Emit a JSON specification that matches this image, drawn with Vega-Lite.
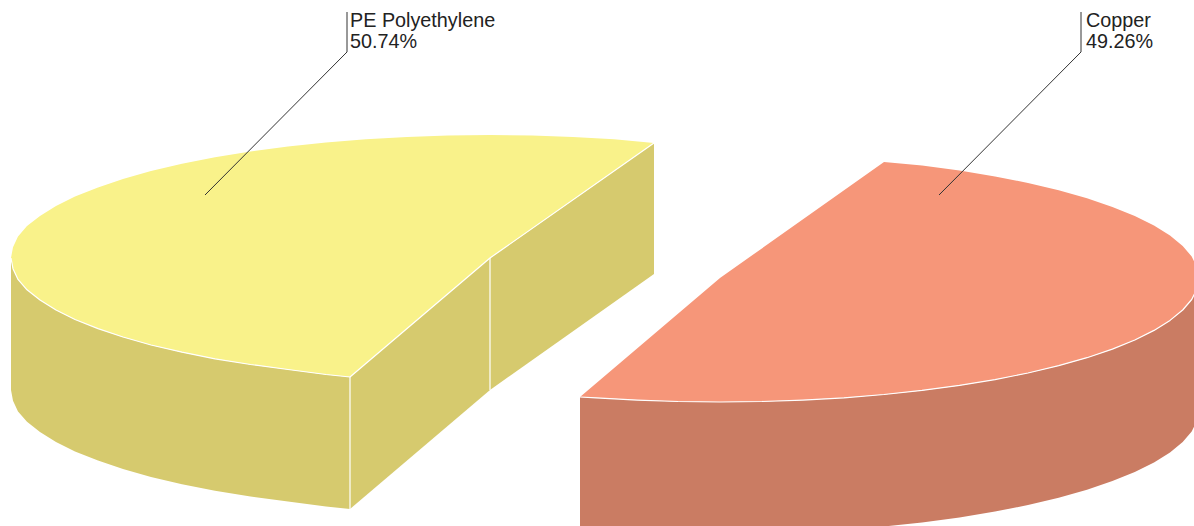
{
"$schema":"https://vega.github.io/schema/vega-lite/v6.json",
"width":1194,"height":526,"padding":0,"autosize":"none",
"background":"white",
"config":{"view":{"stroke":null}},
"datasets":{
"faces":[
{"shape":"PE outer wall","face":"PE wall","x":11,"y":258},{"shape":"PE outer wall","face":"PE wall","x":13,"y":268.7},{"shape":"PE outer wall","face":"PE wall","x":18,"y":279.4},{"shape":"PE outer wall","face":"PE wall","x":27,"y":289.8},{"shape":"PE outer wall","face":"PE wall","x":40,"y":300},{"shape":"PE outer wall","face":"PE wall","x":56,"y":310},{"shape":"PE outer wall","face":"PE wall","x":75,"y":319.5},{"shape":"PE outer wall","face":"PE wall","x":98,"y":328.6},{"shape":"PE outer wall","face":"PE wall","x":123,"y":337},{"shape":"PE outer wall","face":"PE wall","x":151,"y":345},{"shape":"PE outer wall","face":"PE wall","x":182,"y":352.2},{"shape":"PE outer wall","face":"PE wall","x":215,"y":358.8},{"shape":"PE outer wall","face":"PE wall","x":250.5,"y":364.5},{"shape":"PE outer wall","face":"PE wall","x":288,"y":369.5},{"shape":"PE outer wall","face":"PE wall","x":326,"y":374.5},{"shape":"PE outer wall","face":"PE wall","x":350,"y":377},{"shape":"PE outer wall","face":"PE wall","x":350,"y":509},{"shape":"PE outer wall","face":"PE wall","x":326,"y":506.5},{"shape":"PE outer wall","face":"PE wall","x":288,"y":501.5},{"shape":"PE outer wall","face":"PE wall","x":250.5,"y":496.5},{"shape":"PE outer wall","face":"PE wall","x":215,"y":490.8},{"shape":"PE outer wall","face":"PE wall","x":182,"y":484.2},{"shape":"PE outer wall","face":"PE wall","x":151,"y":477},{"shape":"PE outer wall","face":"PE wall","x":123,"y":469},{"shape":"PE outer wall","face":"PE wall","x":98,"y":460.6},{"shape":"PE outer wall","face":"PE wall","x":75,"y":451.5},{"shape":"PE outer wall","face":"PE wall","x":56,"y":442},{"shape":"PE outer wall","face":"PE wall","x":40,"y":432},{"shape":"PE outer wall","face":"PE wall","x":27,"y":421.8},{"shape":"PE outer wall","face":"PE wall","x":18,"y":411.4},{"shape":"PE outer wall","face":"PE wall","x":13,"y":400.7},{"shape":"PE outer wall","face":"PE wall","x":11,"y":390},{"shape":"PE outer wall","face":"PE wall","x":11,"y":258},
{"shape":"PE cut wall 1","face":"PE wall","x":350,"y":377},{"shape":"PE cut wall 1","face":"PE wall","x":490,"y":258},{"shape":"PE cut wall 1","face":"PE wall","x":490,"y":390},{"shape":"PE cut wall 1","face":"PE wall","x":350,"y":509},{"shape":"PE cut wall 1","face":"PE wall","x":350,"y":377},
{"shape":"PE cut wall 2","face":"PE wall","x":490,"y":258},{"shape":"PE cut wall 2","face":"PE wall","x":654,"y":143},{"shape":"PE cut wall 2","face":"PE wall","x":654,"y":274},{"shape":"PE cut wall 2","face":"PE wall","x":490,"y":390},{"shape":"PE cut wall 2","face":"PE wall","x":490,"y":258},
{"shape":"PE top","face":"PE top","x":654,"y":143},{"shape":"PE top","face":"PE top","x":614,"y":139.2},{"shape":"PE top","face":"PE top","x":573,"y":136.9},{"shape":"PE top","face":"PE top","x":532,"y":135.5},{"shape":"PE top","face":"PE top","x":490,"y":135},{"shape":"PE top","face":"PE top","x":448,"y":135.5},{"shape":"PE top","face":"PE top","x":407,"y":136.9},{"shape":"PE top","face":"PE top","x":366,"y":139.2},{"shape":"PE top","face":"PE top","x":326,"y":142.4},{"shape":"PE top","face":"PE top","x":288,"y":146.5},{"shape":"PE top","face":"PE top","x":250.5,"y":151.5},{"shape":"PE top","face":"PE top","x":215,"y":157.2},{"shape":"PE top","face":"PE top","x":182,"y":163.8},{"shape":"PE top","face":"PE top","x":151,"y":171},{"shape":"PE top","face":"PE top","x":123,"y":179},{"shape":"PE top","face":"PE top","x":98,"y":187.4},{"shape":"PE top","face":"PE top","x":75,"y":196.5},{"shape":"PE top","face":"PE top","x":56,"y":206},{"shape":"PE top","face":"PE top","x":40,"y":216},{"shape":"PE top","face":"PE top","x":27,"y":226},{"shape":"PE top","face":"PE top","x":18,"y":236.6},{"shape":"PE top","face":"PE top","x":13,"y":247.3},{"shape":"PE top","face":"PE top","x":11,"y":258},{"shape":"PE top","face":"PE top","x":13,"y":268.7},{"shape":"PE top","face":"PE top","x":18,"y":279.4},{"shape":"PE top","face":"PE top","x":27,"y":289.8},{"shape":"PE top","face":"PE top","x":40,"y":300},{"shape":"PE top","face":"PE top","x":56,"y":310},{"shape":"PE top","face":"PE top","x":75,"y":319.5},{"shape":"PE top","face":"PE top","x":98,"y":328.6},{"shape":"PE top","face":"PE top","x":123,"y":337},{"shape":"PE top","face":"PE top","x":151,"y":345},{"shape":"PE top","face":"PE top","x":182,"y":352.2},{"shape":"PE top","face":"PE top","x":215,"y":358.8},{"shape":"PE top","face":"PE top","x":250.5,"y":364.5},{"shape":"PE top","face":"PE top","x":288,"y":369.5},{"shape":"PE top","face":"PE top","x":326,"y":374.5},{"shape":"PE top","face":"PE top","x":350,"y":377},{"shape":"PE top","face":"PE top","x":490,"y":258},{"shape":"PE top","face":"PE top","x":654,"y":143},
{"shape":"Cu outer wall","face":"Cu wall","x":580,"y":397},{"shape":"Cu outer wall","face":"Cu wall","x":596,"y":397.8},{"shape":"Cu outer wall","face":"Cu wall","x":637,"y":400.1},{"shape":"Cu outer wall","face":"Cu wall","x":678,"y":401.5},{"shape":"Cu outer wall","face":"Cu wall","x":720,"y":402},{"shape":"Cu outer wall","face":"Cu wall","x":762,"y":401.5},{"shape":"Cu outer wall","face":"Cu wall","x":803,"y":400.1},{"shape":"Cu outer wall","face":"Cu wall","x":844,"y":397.8},{"shape":"Cu outer wall","face":"Cu wall","x":884,"y":394.5},{"shape":"Cu outer wall","face":"Cu wall","x":922,"y":390.4},{"shape":"Cu outer wall","face":"Cu wall","x":959.5,"y":385.4},{"shape":"Cu outer wall","face":"Cu wall","x":995,"y":379.6},{"shape":"Cu outer wall","face":"Cu wall","x":1028,"y":373},{"shape":"Cu outer wall","face":"Cu wall","x":1058.7,"y":365.7},{"shape":"Cu outer wall","face":"Cu wall","x":1087,"y":357.7},{"shape":"Cu outer wall","face":"Cu wall","x":1112.4,"y":349.1},{"shape":"Cu outer wall","face":"Cu wall","x":1134.8,"y":340},{"shape":"Cu outer wall","face":"Cu wall","x":1154,"y":330.4},{"shape":"Cu outer wall","face":"Cu wall","x":1170,"y":320.4},{"shape":"Cu outer wall","face":"Cu wall","x":1182.7,"y":310},{"shape":"Cu outer wall","face":"Cu wall","x":1191.7,"y":299.5},{"shape":"Cu outer wall","face":"Cu wall","x":1197,"y":288.8},{"shape":"Cu outer wall","face":"Cu wall","x":1199,"y":278},{"shape":"Cu outer wall","face":"Cu wall","x":1199,"y":410},{"shape":"Cu outer wall","face":"Cu wall","x":1197,"y":420.8},{"shape":"Cu outer wall","face":"Cu wall","x":1191.7,"y":431.5},{"shape":"Cu outer wall","face":"Cu wall","x":1182.7,"y":442},{"shape":"Cu outer wall","face":"Cu wall","x":1170,"y":452.4},{"shape":"Cu outer wall","face":"Cu wall","x":1154,"y":462.4},{"shape":"Cu outer wall","face":"Cu wall","x":1134.8,"y":472},{"shape":"Cu outer wall","face":"Cu wall","x":1112.4,"y":481.1},{"shape":"Cu outer wall","face":"Cu wall","x":1087,"y":489.7},{"shape":"Cu outer wall","face":"Cu wall","x":1058.7,"y":497.7},{"shape":"Cu outer wall","face":"Cu wall","x":1028,"y":505},{"shape":"Cu outer wall","face":"Cu wall","x":995,"y":511.6},{"shape":"Cu outer wall","face":"Cu wall","x":959.5,"y":517.4},{"shape":"Cu outer wall","face":"Cu wall","x":922,"y":522.4},{"shape":"Cu outer wall","face":"Cu wall","x":884,"y":526.5},{"shape":"Cu outer wall","face":"Cu wall","x":844,"y":529.8},{"shape":"Cu outer wall","face":"Cu wall","x":580,"y":529},{"shape":"Cu outer wall","face":"Cu wall","x":580,"y":397},
{"shape":"Cu top","face":"Cu top","x":884,"y":162},{"shape":"Cu top","face":"Cu top","x":922,"y":165.6},{"shape":"Cu top","face":"Cu top","x":959.5,"y":170.6},{"shape":"Cu top","face":"Cu top","x":995,"y":176.4},{"shape":"Cu top","face":"Cu top","x":1028,"y":183},{"shape":"Cu top","face":"Cu top","x":1058.7,"y":190.3},{"shape":"Cu top","face":"Cu top","x":1087,"y":198.3},{"shape":"Cu top","face":"Cu top","x":1112.4,"y":206.9},{"shape":"Cu top","face":"Cu top","x":1134.8,"y":216},{"shape":"Cu top","face":"Cu top","x":1154,"y":225.6},{"shape":"Cu top","face":"Cu top","x":1170,"y":235.6},{"shape":"Cu top","face":"Cu top","x":1182.7,"y":246},{"shape":"Cu top","face":"Cu top","x":1191.7,"y":256.5},{"shape":"Cu top","face":"Cu top","x":1197,"y":267.2},{"shape":"Cu top","face":"Cu top","x":1199,"y":278},{"shape":"Cu top","face":"Cu top","x":1197,"y":288.8},{"shape":"Cu top","face":"Cu top","x":1191.7,"y":299.5},{"shape":"Cu top","face":"Cu top","x":1182.7,"y":310},{"shape":"Cu top","face":"Cu top","x":1170,"y":320.4},{"shape":"Cu top","face":"Cu top","x":1154,"y":330.4},{"shape":"Cu top","face":"Cu top","x":1134.8,"y":340},{"shape":"Cu top","face":"Cu top","x":1112.4,"y":349.1},{"shape":"Cu top","face":"Cu top","x":1087,"y":357.7},{"shape":"Cu top","face":"Cu top","x":1058.7,"y":365.7},{"shape":"Cu top","face":"Cu top","x":1028,"y":373},{"shape":"Cu top","face":"Cu top","x":995,"y":379.6},{"shape":"Cu top","face":"Cu top","x":959.5,"y":385.4},{"shape":"Cu top","face":"Cu top","x":922,"y":390.4},{"shape":"Cu top","face":"Cu top","x":884,"y":394.5},{"shape":"Cu top","face":"Cu top","x":844,"y":397.8},{"shape":"Cu top","face":"Cu top","x":803,"y":400.1},{"shape":"Cu top","face":"Cu top","x":762,"y":401.5},{"shape":"Cu top","face":"Cu top","x":720,"y":402},{"shape":"Cu top","face":"Cu top","x":678,"y":401.5},{"shape":"Cu top","face":"Cu top","x":637,"y":400.1},{"shape":"Cu top","face":"Cu top","x":596,"y":397.8},{"shape":"Cu top","face":"Cu top","x":580,"y":397},{"shape":"Cu top","face":"Cu top","x":720,"y":278},{"shape":"Cu top","face":"Cu top","x":884,"y":162}
],
"edges":[
{"edge":"PE front","x":11,"y":258},{"edge":"PE front","x":13,"y":268.7},{"edge":"PE front","x":18,"y":279.4},{"edge":"PE front","x":27,"y":289.8},{"edge":"PE front","x":40,"y":300},{"edge":"PE front","x":56,"y":310},{"edge":"PE front","x":75,"y":319.5},{"edge":"PE front","x":98,"y":328.6},{"edge":"PE front","x":123,"y":337},{"edge":"PE front","x":151,"y":345},{"edge":"PE front","x":182,"y":352.2},{"edge":"PE front","x":215,"y":358.8},{"edge":"PE front","x":250.5,"y":364.5},{"edge":"PE front","x":288,"y":369.5},{"edge":"PE front","x":326,"y":374.5},{"edge":"PE front","x":350,"y":377},{"edge":"PE front","x":490,"y":258},{"edge":"PE front","x":654,"y":143},
{"edge":"PE corner 1","x":350,"y":377},{"edge":"PE corner 1","x":350,"y":509},
{"edge":"PE corner 2","x":490,"y":258},{"edge":"PE corner 2","x":490,"y":390},
{"edge":"Cu front","x":580,"y":397},{"edge":"Cu front","x":596,"y":397.8},{"edge":"Cu front","x":637,"y":400.1},{"edge":"Cu front","x":678,"y":401.5},{"edge":"Cu front","x":720,"y":402},{"edge":"Cu front","x":762,"y":401.5},{"edge":"Cu front","x":803,"y":400.1},{"edge":"Cu front","x":844,"y":397.8},{"edge":"Cu front","x":884,"y":394.5},{"edge":"Cu front","x":922,"y":390.4},{"edge":"Cu front","x":959.5,"y":385.4},{"edge":"Cu front","x":995,"y":379.6},{"edge":"Cu front","x":1028,"y":373},{"edge":"Cu front","x":1058.7,"y":365.7},{"edge":"Cu front","x":1087,"y":357.7},{"edge":"Cu front","x":1112.4,"y":349.1},{"edge":"Cu front","x":1134.8,"y":340},{"edge":"Cu front","x":1154,"y":330.4},{"edge":"Cu front","x":1170,"y":320.4},{"edge":"Cu front","x":1182.7,"y":310},{"edge":"Cu front","x":1191.7,"y":299.5},{"edge":"Cu front","x":1197,"y":288.8},{"edge":"Cu front","x":1199,"y":278}
],
"leaders":[
{"slice":"PE Polyethylene","x":205,"y":195},{"slice":"PE Polyethylene","x":347,"y":52},{"slice":"PE Polyethylene","x":347,"y":12},
{"slice":"Copper","x":939,"y":195},{"slice":"Copper","x":1081,"y":52},{"slice":"Copper","x":1081,"y":12}
],
"labels":[
{"label":"PE Polyethylene","x":350,"y":27},{"label":"50.74%","x":350,"y":48},
{"label":"Copper","x":1086,"y":27},{"label":"49.26%","x":1086,"y":48}
]
},
"layer":[
{"data":{"name":"faces"},
 "transform":[{"window":[{"op":"row_number","as":"seq"}],"groupby":["shape"]}],
 "mark":{"type":"line","strokeWidth":0,"clip":true,"interpolate":"linear"},
 "encoding":{
  "x":{"field":"x","type":"quantitative","scale":{"domain":[0,1194],"nice":false,"zero":false},"axis":null},
  "y":{"field":"y","type":"quantitative","scale":{"domain":[526,0],"nice":false,"zero":false},"axis":null},
  "detail":{"field":"shape"},
  "order":{"field":"seq","type":"quantitative"},
  "fill":{"field":"face","type":"nominal","legend":null,"scale":{"domain":["PE top","PE wall","Cu top","Cu wall"],"range":["#F9F28A","#D6CA6E","#F69679","#CA7C63"]}}
 }},
{"data":{"name":"edges"},
 "transform":[{"window":[{"op":"row_number","as":"seq"}],"groupby":["edge"]}],
 "mark":{"type":"line","stroke":"white","strokeWidth":1.2,"strokeJoin":"round","clip":true,"interpolate":"linear"},
 "encoding":{
  "x":{"field":"x","type":"quantitative","axis":null},
  "y":{"field":"y","type":"quantitative","axis":null},
  "detail":{"field":"edge"},
  "order":{"field":"seq","type":"quantitative"}
 }},
{"data":{"name":"leaders"},
 "mark":{"type":"line","stroke":"#333333","strokeWidth":1,"interpolate":"linear"},
 "encoding":{
  "x":{"field":"x","type":"quantitative","axis":null},
  "y":{"field":"y","type":"quantitative","axis":null},
  "detail":{"field":"slice"},
  "order":{"field":"y","type":"quantitative"}
 }},
{"data":{"name":"labels"},
 "mark":{"type":"text","align":"left","baseline":"alphabetic","font":"Liberation Sans","fontSize":19.8,"fill":"#222222"},
 "encoding":{
  "x":{"field":"x","type":"quantitative","axis":null},
  "y":{"field":"y","type":"quantitative","axis":null},
  "text":{"field":"label"}
 }}
]
}
